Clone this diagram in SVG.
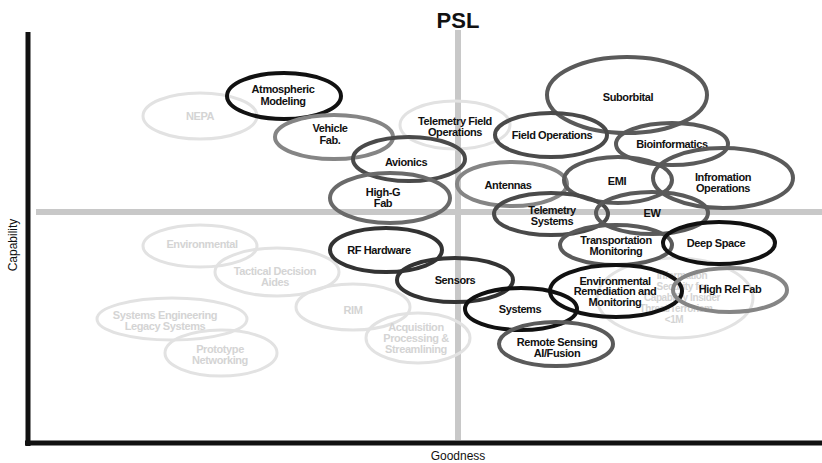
<svg xmlns="http://www.w3.org/2000/svg" width="822" height="463" viewBox="0 0 822 463">
  <style>
    .lbl { font-family: "Liberation Sans", Arial, sans-serif; font-size: 11px; font-weight: bold; fill: #111; text-anchor: middle; letter-spacing: -0.4px; }
    .faint { fill: #d4d4d4; }
    .small { font-size: 10px; }
    .ring { fill: none; stroke-width: 4; }
    .ghost { fill: none; stroke: #e2e2e2; stroke-width: 3; }
    .k1 { stroke: #111; }
    .k2 { stroke: #333; }
    .k3 { stroke: #4a4a4a; }
    .k4 { stroke: #5a5a5a; }
    .k5 { stroke: #6a6a6a; }
    .k6 { stroke: #858585; }
    .axis-lbl { font-family: "Liberation Sans", Arial, sans-serif; font-size: 12px; fill: #111; text-anchor: middle; }
  </style>
  <rect width="822" height="463" fill="#fff"/>

  <!-- quadrant dividers and axes -->
  <g id="axes">
    <line x1="458" y1="30" x2="458" y2="440" stroke="#c8c8c8" stroke-width="6"/>
    <line x1="36" y1="212" x2="822" y2="212" stroke="#c8c8c8" stroke-width="6"/>
    <line x1="28" y1="32" x2="28" y2="446" stroke="#111" stroke-width="5"/>
    <line x1="25" y1="443" x2="822" y2="443" stroke="#111" stroke-width="5"/>
    <text x="458" y="28" font-family="'Liberation Sans', Arial, sans-serif" font-size="22" font-weight="bold" text-anchor="middle" fill="#111">PSL</text>
    <text class="axis-lbl" x="458" y="460">Goodness</text>
    <text class="axis-lbl" transform="translate(17 245) rotate(-90)">Capability</text>
  </g>

  <!-- faded areas -->
  <g id="nepa"><ellipse class="ghost" cx="200" cy="116" rx="57" ry="23"/><text class="lbl faint" x="200" y="120">NEPA</text></g>
  <g id="environmental"><ellipse class="ghost" cx="200" cy="246" rx="57" ry="21"/><text class="lbl faint" x="202" y="248">Environmental</text></g>
  <g id="tactical"><ellipse class="ghost" cx="277" cy="272" rx="62" ry="24"/><text class="lbl faint" x="275" y="275">Tactical Decision</text><text class="lbl faint" x="275" y="286">Aides</text></g>
  <g id="rim"><ellipse class="ghost" cx="353" cy="307" rx="57" ry="23"/><text class="lbl faint" x="353" y="314">RIM</text></g>
  <g id="sys-eng"><ellipse class="ghost" cx="172" cy="319" rx="75" ry="21"/><text class="lbl faint" x="165" y="319">Systems Engineering</text><text class="lbl faint" x="165" y="330">Legacy Systems</text></g>
  <g id="prototype"><ellipse class="ghost" cx="221" cy="353" rx="56" ry="23"/><text class="lbl faint" x="220" y="353">Prototype</text><text class="lbl faint" x="220" y="364">Networking</text></g>
  <g id="acquisition"><ellipse class="ghost" cx="418" cy="338" rx="52" ry="25"/><text class="lbl faint" x="416" y="331">Acquisition</text><text class="lbl faint" x="416" y="342">Processing &amp;</text><text class="lbl faint" x="416" y="353">Streamlining</text></g>
  <g id="insider"><ellipse class="ghost" cx="675" cy="298" rx="78" ry="40"/><text class="lbl faint small" x="682" y="279">Information</text><text class="lbl faint small" x="682" y="290">Security for</text><text class="lbl faint small" x="682" y="301">Capability Insider</text><text class="lbl faint small" x="676" y="312">Threat/Terrorism</text><text class="lbl faint small" x="674" y="323">&lt;1M</text></g>
  <g id="telemetry-field"><ellipse class="ghost" cx="455" cy="125" rx="55" ry="24"/><text class="lbl" x="455" y="125">Telemetry Field</text><text class="lbl" x="455" y="136">Operations</text></g>

  <!-- active areas -->
  <g id="atmospheric"><ellipse class="ring k1" cx="284" cy="96" rx="57" ry="23"/><text class="lbl" x="283" y="93">Atmospheric</text><text class="lbl" x="283" y="105">Modeling</text></g>
  <g id="vehicle-fab"><ellipse class="ring k6" cx="334" cy="137" rx="59" ry="22"/><text class="lbl" x="330" y="132">Vehicle</text><text class="lbl" x="330" y="144">Fab.</text></g>
  <g id="avionics"><ellipse class="ring k3" cx="409" cy="159" rx="56" ry="22"/><text class="lbl" x="406" y="166">Avionics</text></g>
  <g id="high-g"><ellipse class="ring k5" cx="390" cy="198" rx="60" ry="25"/><text class="lbl" x="383" y="196">High-G</text><text class="lbl" x="383" y="207">Fab</text></g>
  <g id="rf-hardware"><ellipse class="ring k2" cx="386" cy="250" rx="56" ry="22"/><text class="lbl" x="379" y="254">RF Hardware</text></g>
  <g id="sensors"><ellipse class="ring k2" cx="455" cy="280" rx="58" ry="22"/><text class="lbl" x="455" y="284">Sensors</text></g>
  <g id="suborbital"><ellipse class="ring k4" cx="627" cy="95" rx="80" ry="38"/><text class="lbl" x="628" y="101">Suborbital</text></g>
  <g id="field-ops"><ellipse class="ring k3" cx="551" cy="135" rx="56" ry="22"/><text class="lbl" x="552" y="139">Field Operations</text></g>
  <g id="bioinformatics"><ellipse class="ring k4" cx="672" cy="144" rx="56" ry="21"/><text class="lbl" x="672" y="148">Bioinformatics</text></g>
  <g id="antennas"><ellipse class="ring k6" cx="512" cy="184" rx="55" ry="22"/><text class="lbl" x="508" y="189">Antennas</text></g>
  <g id="emi"><ellipse class="ring k4" cx="618" cy="180" rx="54" ry="23"/><text class="lbl" x="617" y="185">EMI</text></g>
  <g id="info-ops"><ellipse class="ring k4" cx="723" cy="178" rx="70" ry="30"/><text class="lbl" x="723" y="181">Infromation</text><text class="lbl" x="723" y="192">Operations</text></g>
  <g id="telemetry-sys"><ellipse class="ring k3" cx="551" cy="214" rx="57" ry="21"/><text class="lbl" x="552" y="214">Telemetry</text><text class="lbl" x="552" y="225">Systems</text></g>
  <g id="ew"><ellipse class="ring k4" cx="652" cy="213" rx="56" ry="21"/><text class="lbl" x="652" y="217">EW</text></g>
  <g id="transport"><ellipse class="ring k4" cx="616" cy="245" rx="56" ry="20"/><text class="lbl" x="616" y="244">Transportation</text><text class="lbl" x="616" y="255">Monitoring</text></g>
  <g id="deep-space"><ellipse class="ring k1" cx="719" cy="243" rx="56" ry="21"/><text class="lbl" x="716" y="247">Deep Space</text></g>
  <g id="env-remediation"><ellipse class="ring k1" cx="616" cy="291" rx="66" ry="26"/><text class="lbl" x="615" y="285">Environmental</text><text class="lbl" x="615" y="295">Remediation and</text><text class="lbl" x="615" y="306">Monitoring</text></g>
  <g id="high-rel"><ellipse class="ring k6" cx="730" cy="290" rx="57" ry="22"/><text class="lbl" x="730" y="293">High Rel Fab</text></g>
  <g id="systems"><ellipse class="ring k1" cx="521" cy="309" rx="56" ry="21"/><text class="lbl" x="520" y="313">Systems</text></g>
  <g id="remote-sensing"><ellipse class="ring k4" cx="556" cy="344" rx="57" ry="22"/><text class="lbl" x="557" y="346">Remote Sensing</text><text class="lbl" x="557" y="357">AI/Fusion</text></g>
</svg>
